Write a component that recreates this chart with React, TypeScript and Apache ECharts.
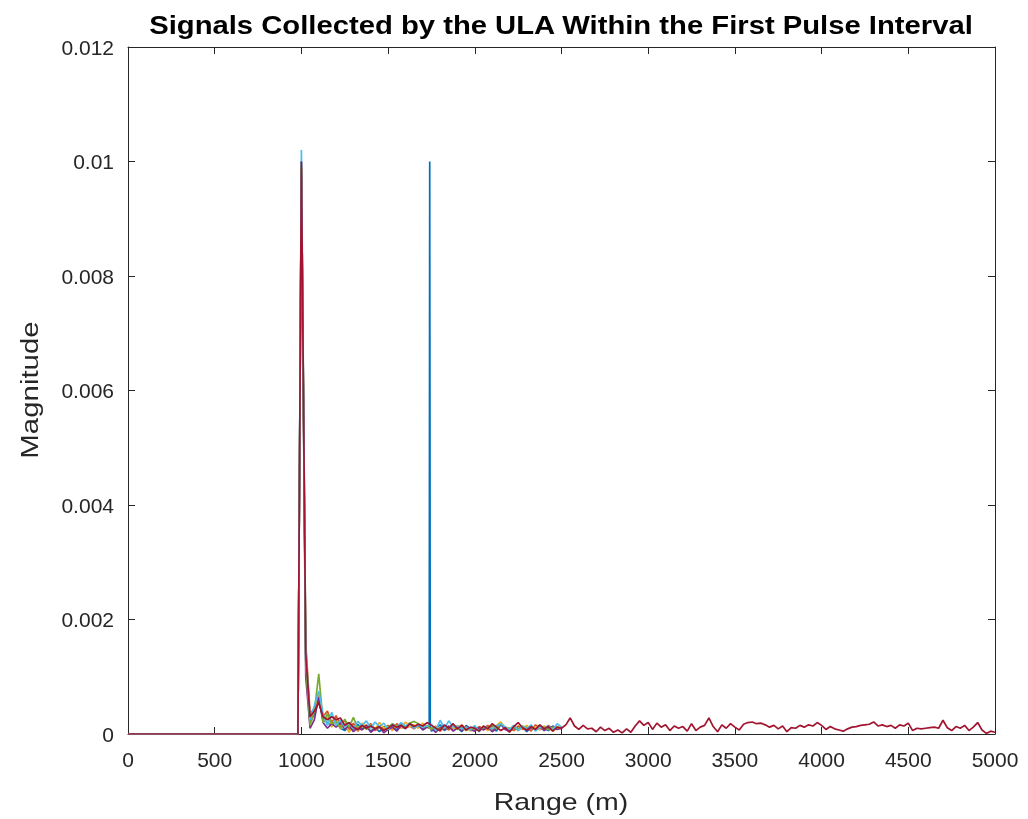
import { useEffect, useRef } from "react";
import * as echarts from "echarts";

// Sample grid: zero region, then samples from 1000 m every 25 m
const preRange = [0, 980];
const preValues = [0, 0];
const rangeStart = 1000;
const rangeStep = 25;

// Magnitudes in units of 1e-4, sampled at 1000, 1025, ... m
const blueE4 = [
  100, 13, 2.0, 3.5, 6.0, 2.5, 2.0, 1.5, 2.2, 1.0,
  0.6, 1.3, 0.8, 1.7, 0.9, 1.2, 0.5, 1.1, 0.4, 1.3,
  1.0, 1.5, 0.7, 1.6, 1.2, 1.8, 1.4, 1.5, 0.8, 1.3,
  0.5, 1.0, 1.6, 0.6, 1.2, 0.8, 1.1, 0.4, 1.5, 0.9,
  1.2, 0.6, 1.0, 0.8, 1.3, 0.5, 1.6, 1.1, 0.7, 1.4,
  0.9, 1.2, 0.4, 1.3, 0.8, 1.5, 1.0, 0.6, 1.4, 0.9,
  1.1,
];
// The isolated spike in the first channel
const spikeRange = [1737, 1740, 1743];
const spikeBlueE4 = [1.3, 100, 1.2];

const orangeE4 = [
  99, 16, 3.5, 4.5, 5.5, 3.0, 4.0, 2.0, 3.2, 1.5,
  2.4, 0.8, 1.9, 0.5, 1.4, 1.0, 1.8, 0.6, 1.2, 0.9,
  1.5, 0.7, 1.8, 1.2, 1.0, 1.4, 0.9, 1.7, 1.1, 1.5,
  0.8, 1.3, 0.5, 1.2, 0.7, 1.4, 1.0, 1.6, 0.8, 1.1,
  0.6, 1.3, 0.9, 1.5, 0.7, 1.2, 1.9, 0.9, 1.0, 0.6,
  1.4, 0.8, 1.2, 0.5, 1.6, 1.1, 0.9, 1.5, 0.7, 1.2,
  0.9,
];
const yellowE4 = [
  99, 14, 2.8, 4.0, 7.0, 2.2, 3.0, 1.2, 2.6, 0.9,
  1.8, 0.3, 1.4, 0.7, 1.9, 1.2, 1.5, 0.8, 2.0, 1.1,
  1.3, 0.6, 1.5, 1.0, 2.1, 1.3, 1.6, 1.0, 1.9, 1.2,
  0.9, 1.4, 0.6, 1.1, 1.3, 0.7, 1.5, 0.9, 1.2, 0.5,
  1.0, 0.8, 1.3, 0.6, 1.1, 1.5, 2.1, 1.0, 0.8, 1.3,
  0.6, 1.0, 1.5, 0.9, 1.2, 0.7, 1.4, 1.1, 0.5, 1.3,
  1.0,
];
const purpleE4 = [
  98, 10, 1.0, 2.5, 6.5, 2.0, 1.0, 1.8, 1.2, 2.0,
  0.8, 1.5, 0.4, 1.1, 0.7, 1.6, 0.3, 0.9, 1.2, 0.2,
  0.8, 1.2, 0.5, 1.5, 0.9, 1.9, 1.1, 1.6, 0.7, 1.2,
  1.0, 0.3, 1.1, 0.8, 1.4, 0.5, 1.0, 0.6, 1.3, 0.8,
  0.5, 1.1, 0.7, 1.2, 0.4, 1.0, 1.7, 0.8, 0.5, 1.1,
  0.7, 1.3, 0.6, 1.0, 0.8, 1.2, 0.6, 1.0, 1.3, 0.8,
  1.0,
];
const greenE4 = [
  99, 12, 1.5, 4.0, 10.5, 2.0, 3.5, 1.8, 2.2, 1.0,
  2.6, 1.2, 2.9, 1.0, 1.6, 0.8, 1.4, 1.0, 1.2, 0.7,
  1.1, 1.8, 1.3, 1.6, 1.1, 1.9, 2.2, 1.8, 1.2, 1.4,
  0.9, 1.2, 0.7, 1.3, 1.0, 1.6, 0.8, 1.2, 0.6, 1.0,
  0.9, 0.6, 1.2, 1.0, 1.6, 0.9, 1.8, 1.2, 0.9, 1.1,
  0.8, 1.4, 1.0, 1.2, 0.7, 1.5, 1.1, 0.8, 1.2, 1.0,
  1.2,
];
const lightBlueE4 = [
  102, 15, 2.5, 5.0, 7.5, 3.5, 1.5, 3.8, 1.5, 2.4,
  1.2, 2.0, 0.9, 2.2, 1.5, 2.3, 1.0, 2.1, 1.3, 1.9,
  0.8, 1.7, 1.2, 2.0, 1.4, 1.8, 1.0, 1.6, 1.2, 1.4,
  1.7, 0.6, 2.4, 1.0, 2.3, 1.2, 1.4, 0.9, 1.2, 0.7,
  1.5, 0.4, 1.3, 1.1, 0.9, 1.4, 1.8, 1.2, 0.8, 1.5,
  0.6, 1.3, 0.9, 1.6, 0.5, 1.2, 1.0, 1.4, 0.7, 1.8,
  1.2,
];
const redE4 = [
  100, 14, 3.0, 4.0, 5.5, 3.0, 2.5, 3.0, 2.5, 2.8,
  1.5, 2.0, 1.2, 0.8, 1.5, 1.0, 1.4, 0.9, 1.3, 0.6,
  1.0, 1.6, 1.2, 1.5, 1.0, 1.8, 1.3, 1.7, 1.4, 2.0,
  1.5, 1.0, 0.6, 1.6, 1.0, 1.8, 0.9, 1.5, 0.7, 1.2,
  1.0, 0.5, 1.4, 0.9, 1.8, 1.2, 0.6, 1.1, 0.3, 1.3,
  2.0, 1.1, 0.7, 1.3, 0.8, 1.6, 0.9, 1.3, 0.5, 1.2,
  1.0, 1.6, 2.8, 1.4, 0.8, 1.5, 0.9, 1.0, 0.4, 1.2,
  0.6, 1.0, 0.3, 0.7, 0.2, 0.9, 0.3, 1.4, 2.3, 1.5,
  2.0, 0.8, 1.9, 1.2, 1.6, 0.6, 1.4, 1.0, 1.3, 0.5,
  1.8, 0.6, 1.2, 1.5, 2.8, 1.3, 0.4, 1.6, 1.0, 1.8,
  1.2, 0.7, 1.7, 2.0, 2.1, 1.8, 1.9, 1.6, 1.2, 1.5,
  0.9, 1.4, 0.4, 1.1, 1.0, 1.5, 1.2, 1.6, 1.4, 2.0,
  1.5, 0.8, 1.3, 0.9, 0.7, 0.5, 0.9, 1.2, 1.3, 1.5,
  1.6, 1.7, 2.1, 1.4, 1.6, 1.3, 1.5, 1.0, 1.6, 1.4,
  1.9, 0.6, 1.0, 0.9, 1.0, 1.1, 1.2, 1.0, 2.4, 1.1,
  0.6, 1.3, 1.0, 1.5, 0.6, 1.2, 2.0, 0.7, 0.1, 0.5,
  0.3,
];

const seriesColors = ["#0072BD", "#D95319", "#EDB120", "#7E2F8E", "#77AC30", "#4DBEEE", "#A2142F"];

const titleText = "Signals Collected by the ULA Within the First Pulse Interval";
const xName = "Range (m)";
const yName = "Magnitude";

const xTicks = { min: 0, max: 5000, interval: 500 };
const yTicks = { min: 0, max: 0.012, interval: 0.002 };

function buildSeries(valsE4: number[], extraX: number[] = [], extraE4: number[] = []) {
  const pts: [number, number][] = preRange.map((r, i) => [r, preValues[i]]);
  valsE4.forEach((v, i) => pts.push([rangeStart + i * rangeStep, v * 1e-4]));
  extraX.forEach((r, i) => pts.push([r, extraE4[i] * 1e-4]));
  pts.sort((a, b) => a[0] - b[0]);
  return pts;
}

const axisColor = "#262626";
const fontFamily = "'Liberation Sans', Arial, Helvetica, sans-serif";

export default function App() {
  const ref = useRef<HTMLDivElement>(null);
  useEffect(() => {
    const chart = echarts.init(ref.current!, null, { renderer: "svg" });
    const allData = [
      buildSeries(blueE4, spikeRange, spikeBlueE4),
      buildSeries(orangeE4),
      buildSeries(yellowE4),
      buildSeries(purpleE4),
      buildSeries(greenE4),
      buildSeries(lightBlueE4),
      buildSeries(redE4),
    ];
    const axisCommon = {
      axisLine: { show: true, onZero: false, lineStyle: { color: axisColor, width: 1 } },
      axisTick: { show: true, inside: true, length: 7, lineStyle: { color: axisColor, width: 1 } },
      splitLine: { show: false },
    };
    chart.setOption({
      animation: false,
      textStyle: { fontFamily },
      grid: { left: 128, right: 33, top: 47, bottom: 85, containLabel: false },
      graphic: [
        {
          type: "text",
          x: 561,
          y: 25,
          scaleX: 1.17,
          style: {
            text: titleText,
            fill: "#000",
            font: `bold 25px ${fontFamily}`,
            textAlign: "center",
            textVerticalAlign: "middle",
          },
        },
        {
          type: "text",
          x: 561,
          y: 802,
          scaleX: 1.24,
          style: {
            text: xName,
            fill: axisColor,
            font: `23px ${fontFamily}`,
            textAlign: "center",
            textVerticalAlign: "middle",
          },
        },
        {
          type: "text",
          x: 30,
          y: 390,
          rotation: Math.PI / 2,
          scaleX: 1.28,
          style: {
            text: yName,
            fill: axisColor,
            font: `23px ${fontFamily}`,
            textAlign: "center",
            textVerticalAlign: "middle",
          },
        },
      ],
      xAxis: [
        {
          type: "value",
          ...xTicks,
          position: "bottom",
          axisLabel: {
            fontSize: 21,
            color: axisColor,
            margin: 15,
            fontFamily,
            formatter: (v: number) => String(v),
          },
          ...axisCommon,
        },
        {
          type: "value",
          ...xTicks,
          position: "top",
          axisLabel: { show: false },
          ...axisCommon,
        },
      ],
      yAxis: [
        {
          type: "value",
          ...yTicks,
          position: "left",
          axisLabel: {
            fontSize: 21,
            color: axisColor,
            margin: 14,
            fontFamily,
            formatter: (v: number) => String(parseFloat(v.toFixed(4))),
          },
          ...axisCommon,
        },
        {
          type: "value",
          ...yTicks,
          position: "right",
          axisLabel: { show: false },
          ...axisCommon,
        },
      ],
      series: allData.map((d, i) => ({
        type: "line",
        data: d,
        xAxisIndex: 0,
        yAxisIndex: 0,
        showSymbol: false,
        symbol: "none",
        lineStyle: { color: seriesColors[i], width: 1.7 },
        itemStyle: { color: seriesColors[i] },
        z: 2 + i,
      })),
    });
    return () => chart.dispose();
  }, []);
  return <div ref={ref} style={{ position: "fixed", left: 0, top: 0, width: 1028, height: 819 }} />;
}
